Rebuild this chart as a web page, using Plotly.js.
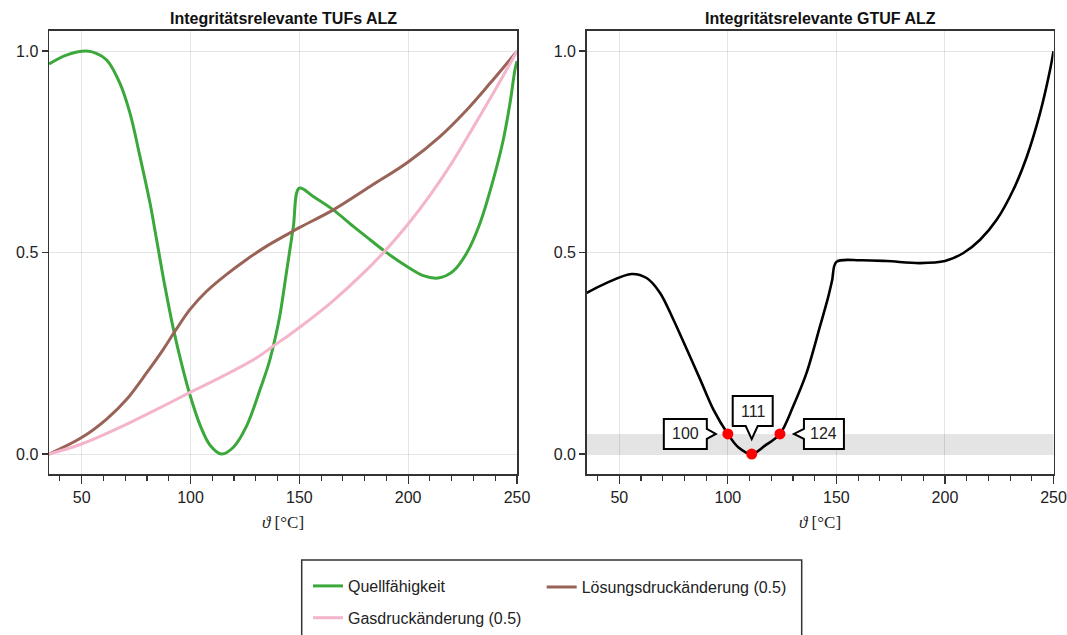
<!DOCTYPE html>
<html>
<head>
<meta charset="utf-8">
<script src="https://cdn.plot.ly/plotly-3.0.1.min.js"></script>
<style>html,body{margin:0;padding:0;background:#fff;} #plot{width:1067px;height:635px;}</style>
</head>
<body>
<div id="plot"></div>
<script>
// ---- data ----
const thetaQ = [35, 43, 52, 57, 61.5, 67.6, 72.2, 76.8, 81.4, 84.5, 88.3, 92.1, 96, 99.8, 104.4, 109, 114.3, 119.7, 125.8, 132, 136, 139, 141.1, 144.2, 147.2, 150, 156.4, 165.6, 174.8, 182.5, 190.1, 199.3, 206.9, 213.8, 220.7, 226.9, 233, 239.1, 243.7, 246.8, 249.1, 250];
const valQ   = [0.968, 0.99, 1.0, 0.994, 0.978, 0.92, 0.846, 0.738, 0.623, 0.53, 0.415, 0.312, 0.222, 0.146, 0.072, 0.022, 0.0, 0.017, 0.070, 0.161, 0.225, 0.29, 0.345, 0.455, 0.562, 0.66, 0.639, 0.606, 0.565, 0.532, 0.50, 0.466, 0.443, 0.437, 0.454, 0.499, 0.573, 0.681, 0.780, 0.871, 0.955, 0.975];

const thetaL = [35, 50, 61.5, 70.7, 79.9, 87.5, 92.9, 99.8, 107.4, 116.6, 125.8, 135, 145.7, 150, 165.6, 182.5, 200, 214.6, 226.9, 237.6, 250];
const valL   = [0, 0.041, 0.087, 0.136, 0.202, 0.26, 0.305, 0.359, 0.404, 0.446, 0.483, 0.516, 0.549, 0.562, 0.606, 0.664, 0.725, 0.788, 0.854, 0.92, 1.0];

const thetaG = [35, 50, 69.1, 84.5, 99.8, 115.1, 130.4, 138, 145.7, 150, 165, 180, 190, 200, 210, 220, 230, 240, 250];
const valG   = [0, 0.025, 0.07, 0.111, 0.153, 0.194, 0.239, 0.268, 0.297, 0.314, 0.378, 0.452, 0.508, 0.571, 0.642, 0.722, 0.812, 0.904, 1.0];

const thetaT = [35, 44.2, 55.7, 62.6, 68.8, 74.9, 81.1, 87.2, 93.3, 100, 104.8, 111, 117.1, 124, 130.2, 136.3, 142.5, 146, 148, 150, 160.9, 173.2, 188.5, 200, 208.5, 216.2, 223.9, 231.5, 237.7, 243.8, 248.4, 250];
const valT   = [0.40, 0.425, 0.447, 0.437, 0.40, 0.334, 0.26, 0.186, 0.111, 0.05, 0.017, 0.0, 0.021, 0.05, 0.12, 0.202, 0.318, 0.385, 0.43, 0.477, 0.481, 0.479, 0.474, 0.479, 0.499, 0.532, 0.582, 0.656, 0.738, 0.846, 0.953, 1.0];

const markerTheta = [100, 111, 124];
const markerVal   = [0.05, 0, 0.05];
const bandLimit = 0.05;

const seriesNames = ['Quellfähigkeit', 'Lösungsdruckänderung (0.5)', 'Gasdruckänderung (0.5)'];
const titles = ['Integritätsrelevante TUFs ALZ', 'Integritätsrelevante GTUF ALZ'];
const xTickVals = [50, 100, 150, 200, 250];
const yTickVals = [0, 0.5, 1.0];
const xLabel = '<i>ϑ</i> [°C]';

// ---- styling ----
const W = 1067, H = 635;
const FONT = 'Liberation Sans, Arial, Helvetica, sans-serif';
const cGreen = '#3aa83a', cBrown = '#9a6357', cPink = '#f4b4cc';

const traces = [
  {x: thetaQ, y: valQ, name: seriesNames[0], mode: 'lines', line: {color: cGreen, width: 3, shape: 'spline', smoothing: 1},
   xaxis: 'x', yaxis: 'y', legend: 'legend', legendgroup: 'a'},
  {x: thetaL, y: valL, name: seriesNames[1], mode: 'lines', line: {color: cBrown, width: 3, shape: 'spline', smoothing: 1},
   xaxis: 'x', yaxis: 'y', legend: 'legend2', legendgroup: 'b'},
  {x: thetaG, y: valG, name: seriesNames[2], mode: 'lines', line: {color: cPink, width: 3, shape: 'spline', smoothing: 1},
   xaxis: 'x', yaxis: 'y', legend: 'legend', legendgroup: 'c'},
  {x: thetaT, y: valT, mode: 'lines', line: {color: '#000', width: 2.6, shape: 'spline', smoothing: 0.9},
   xaxis: 'x2', yaxis: 'y2', showlegend: false},
  {x: markerTheta, y: markerVal, mode: 'markers', marker: {color: '#ff0000', size: 11},
   xaxis: 'x2', yaxis: 'y2', showlegend: false}
];

function xAxis(domain, anchor) {
  return {
    domain: domain, anchor: anchor, range: [35, 250],
    tickvals: xTickVals, ticks: 'outside', ticklen: 8, tickwidth: 1.3, tickcolor: '#333',
    minor: {dtick: 10, tick0: 0, ticks: 'outside', ticklen: 5, tickwidth: 1.1, tickcolor: '#333', showgrid: false},
    showgrid: true, gridcolor: 'rgba(0,0,0,0.10)', gridwidth: 1,
    showline: true, mirror: true, linecolor: '#333', linewidth: 1.5, zeroline: false,
    tickfont: {family: FONT, size: 16, color: '#222'}, fixedrange: true
  };
}
function yAxis(anchor) {
  return {
    domain: [(H - 475) / H, (H - 31) / H], anchor: anchor, range: [-0.05, 1.05],
    tickvals: yTickVals, tickformat: '.1f', ticks: 'outside', ticklen: 6, tickwidth: 1.3, tickcolor: '#333',
    showgrid: true, gridcolor: 'rgba(0,0,0,0.10)', gridwidth: 1,
    showline: true, mirror: true, linecolor: '#333', linewidth: 1.5, zeroline: false,
    tickfont: {family: FONT, size: 16, color: '#222'}, fixedrange: true
  };
}

// callout outlines, in pixels relative to each marker (y upward)
const calloutPaths = [
  'M -21,15 L -21,5 L -12,0 L -21,-5 L -21,-15 L -64,-15 L -64,15 Z',
  'M -19,28 L -6,28 L 0,15 L 6,28 L 21,28 L 21,58 L -19,58 Z',
  'M 24,15 L 24,5 L 14,0 L 24,-5 L 24,-15 L 64,-15 L 64,15 Z'
];
const textShift = [[-42, 0], [1, 43], [44, 0]];

const shapes = [
  {type: 'rect', xref: 'x2 domain', x0: 0, x1: 1, yref: 'y2', y0: 0, y1: bandLimit,
   fillcolor: '#e4e4e4', line: {width: 0}, layer: 'below'},
  // legend frame
  {type: 'rect', xref: 'paper', yref: 'paper', x0: 301.7 / W, x1: 801.7 / W, y0: -0.05, y1: (H - 561) / H,
   line: {color: '#333', width: 1.5}, fillcolor: 'rgba(0,0,0,0)'}
];
markerTheta.forEach((t, i) => {
  shapes.push({type: 'path', xref: 'x2', yref: 'y2', xsizemode: 'pixel', ysizemode: 'pixel',
    xanchor: t, yanchor: markerVal[i], path: calloutPaths[i],
    fillcolor: '#fff', line: {color: '#000', width: 2}, layer: 'above'});
});

const annotations = [
  {text: '<b>' + titles[0] + '</b>', xref: 'x domain', yref: 'y domain', x: 0.5, y: 1, yanchor: 'bottom', yshift: 2,
   showarrow: false, font: {family: FONT, size: 16, color: '#111'}},
  {text: '<b>' + titles[1] + '</b>', xref: 'x2 domain', yref: 'y2 domain', x: 0.5, y: 1, yanchor: 'bottom', yshift: 2,
   showarrow: false, font: {family: FONT, size: 16, color: '#111'}},
  {text: xLabel, xref: 'x domain', yref: 'y domain', x: 0.5, y: 0, yanchor: 'top', yshift: -37,
   showarrow: false, font: {family: 'Liberation Serif, DejaVu Serif, serif', size: 17, color: '#222'}},
  {text: xLabel, xref: 'x2 domain', yref: 'y2 domain', x: 0.5, y: 0, yanchor: 'top', yshift: -37,
   showarrow: false, font: {family: 'Liberation Serif, DejaVu Serif, serif', size: 17, color: '#222'}}
];
markerTheta.forEach((t, i) => {
  annotations.push({text: String(t), xref: 'x2', yref: 'y2', x: t, y: markerVal[i],
    xshift: textShift[i][0], yshift: textShift[i][1], showarrow: false,
    font: {family: FONT, size: 16, color: '#222'}});
});

const legendCommon = {
  orientation: 'v', xanchor: 'left', yanchor: 'top', y: (H - 570) / H,
  bgcolor: 'rgba(0,0,0,0)', borderwidth: 0, traceorder: 'grouped', tracegroupgap: 8,
  font: {family: FONT, size: 16, color: '#222'}
};

const layout = {
  width: W, height: H, margin: {l: 0, r: 0, t: 0, b: 0},
  paper_bgcolor: '#fff', plot_bgcolor: '#fff',
  xaxis: xAxis([49 / W, 517 / W], 'y'),
  yaxis: yAxis('x'),
  xaxis2: xAxis([586.7 / W, 1053.5 / W], 'y2'),
  yaxis2: yAxis('x2'),
  showlegend: true,
  legend: Object.assign({}, legendCommon, {x: 308 / W}),
  legend2: Object.assign({}, legendCommon, {x: 541.7 / W}),
  shapes: shapes,
  annotations: annotations,
  hovermode: false
};

Plotly.newPlot('plot', traces, layout, {displayModeBar: false, staticPlot: true});
</script>
</body>
</html>
